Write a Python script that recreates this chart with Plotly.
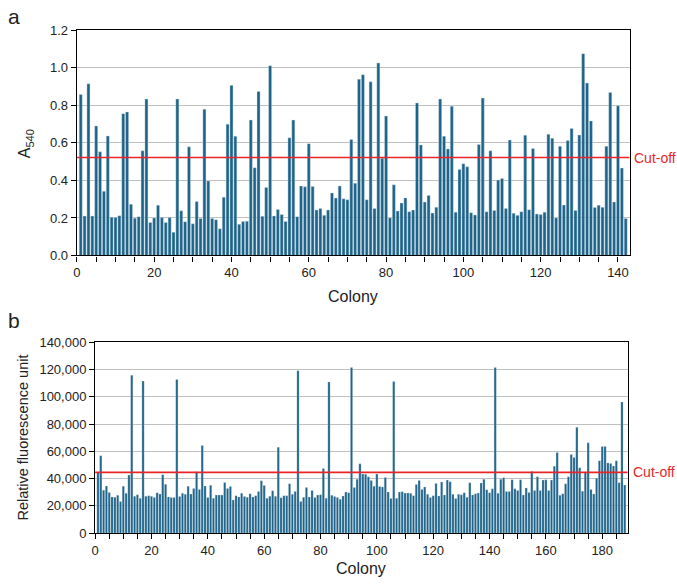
import plotly.graph_objects as go

# ---------------- data ----------------
a540 = [0.858, 0.21, 0.915, 0.21, 0.69, 0.553, 0.342, 0.637, 0.204, 0.202,
        0.212, 0.756, 0.765, 0.273, 0.199, 0.207, 0.558, 0.834, 0.176, 0.2,
        0.268, 0.202, 0.176, 0.202, 0.124, 0.834, 0.238, 0.18, 0.579, 0.169,
        0.288, 0.197, 0.78, 0.397, 0.197, 0.19, 0.142, 0.311, 0.70, 0.907,
        0.636, 0.166, 0.181, 0.183, 0.722, 0.468, 0.874, 0.209, 0.363, 1.012,
        0.211, 0.245, 0.218, 0.181, 0.627, 0.722, 0.207, 0.37, 0.366, 0.596,
        0.368, 0.242, 0.25, 0.214, 0.242, 0.333, 0.306, 0.37, 0.302, 0.297,
        0.618, 0.385, 0.94, 0.964, 0.297, 0.926, 0.25, 1.026, 0.518, 0.743,
        0.2, 0.377, 0.237, 0.28, 0.307, 0.233, 0.242, 0.813, 0.589, 0.285,
        0.32, 0.226, 0.257, 0.834, 0.636, 0.568, 0.796, 0.231, 0.458, 0.489,
        0.473, 0.228, 0.216, 0.591, 0.839, 0.233, 0.558, 0.24, 0.402, 0.411,
        0.25, 0.615, 0.225, 0.214, 0.233, 0.641, 0.244, 0.57, 0.221, 0.218,
        0.231, 0.646, 0.625, 0.2, 0.582, 0.269, 0.613, 0.677, 0.24, 0.642,
        1.076, 0.919, 0.717, 0.256, 0.268, 0.257, 0.582, 0.869, 0.285, 0.798,
        0.466, 0.197]
colony_a = list(range(1, len(a540) + 1))

rfu = [44600, 56700, 31500, 34600, 29900, 26600, 26300, 27800, 23200, 34400,
       29200, 42700, 115800, 27000, 28200, 25600, 111500, 27000, 27500, 27000,
       26100, 29700, 28700, 42900, 35800, 26600, 26100, 26100, 112700, 26800,
       29200, 28500, 34400, 28700, 32700, 45000, 32000, 64300, 34600, 26100,
       35100, 25600, 28000, 28000, 28000, 37200, 32700, 34200, 24400, 27500,
       26600, 29200, 26800, 26300, 28900, 26600, 27500, 30600, 38400, 34900,
       25600, 27000, 31100, 27000, 62900, 25900, 27500, 27500, 36300, 28500,
       30600, 119100, 23200, 26300, 33400, 26600, 31300, 26100, 28000, 28200,
       47400, 25600, 110800, 27800, 26800, 26100, 24900, 27300, 30100, 29700,
       121400, 33400, 39600, 50800, 43400, 43200, 41300, 38700, 34400, 43400,
       34200, 33900, 40800, 30100, 25400, 111200, 25600, 30100, 30400, 29400,
       29400, 29200, 27500, 35600, 38700, 32000, 33900, 28500, 26100, 27500,
       36500, 27300, 37500, 28000, 38900, 37700, 28500, 25400, 28500, 28200,
       29700, 26300, 37000, 28000, 28900, 29400, 36800, 39600, 31800, 29700,
       32500, 121400, 29200, 39600, 40600, 30600, 30600, 39100, 32500, 31300,
       39100, 28000, 33200, 29900, 45300, 31300, 41300, 31300, 38900, 39100,
       31300, 38900, 49100, 59100, 27800, 28900, 36300, 41300, 57600, 55500,
       77600, 47900, 30800, 44800, 66200, 32000, 28700, 40300, 53100, 63600,
       63600, 51500, 51000, 49300, 53100, 37000, 96100, 35300]
colony_b = list(range(1, len(rfu) + 1))

cutoff_a = 0.522
cutoff_b = 44600

# ---------------- style ----------------
W, H = 677, 586
BAR = "#1e6388"
RED = "#e8262a"
TXT = "#222222"
FONT = "Liberation Sans, Arial, sans-serif"

def px_x(p):
    return p / W

def px_y(p):
    return (H - p) / H

fig = go.Figure()
fig.add_trace(go.Bar(x=colony_a, y=a540, marker=dict(color=BAR, line=dict(color="#cfe0ea", width=0.4)),
                     xaxis="x", yaxis="y", showlegend=False))
fig.add_trace(go.Bar(x=colony_b, y=rfu, marker=dict(color=BAR, line=dict(color="#cfe0ea", width=0.3)),
                     xaxis="x2", yaxis="y2", showlegend=False))

axis_common = dict(showline=True, linecolor="black", linewidth=1.3, mirror=True,
                   ticks="outside", tickcolor="black", ticklen=5, zeroline=False,
                   tickfont=dict(size=13, color=TXT, family=FONT))

fig.update_layout(
    width=W, height=H,
    margin=dict(l=0, r=0, t=0, b=0),
    paper_bgcolor="white", plot_bgcolor="white",
    bargap=0.22,
    font=dict(family=FONT, color=TXT),
    xaxis=dict(domain=[px_x(73.3), px_x(629.3)], anchor="y", range=[0, 143],
               dtick=20, tick0=0, showgrid=False,
               minor=dict(dtick=5, tick0=0, ticks="outside", ticklen=5, tickcolor="black", showgrid=False),
               **axis_common),
    yaxis=dict(domain=[px_y(255), px_y(24)], anchor="x", range=[0, 1.2], dtick=0.2,
               tickformat=".1f", showgrid=True, gridcolor="#c0c0c0", gridwidth=1,
               **axis_common),
    xaxis2=dict(domain=[px_x(91.7), px_x(627.3)], anchor="y2", range=[0, 189],
                dtick=20, tick0=0, showgrid=False,
                minor=dict(dtick=5, tick0=0, ticks="outside", ticklen=5, tickcolor="black", showgrid=False),
                **axis_common),
    yaxis2=dict(domain=[px_y(540), px_y(344)], anchor="x2", range=[0, 140000], dtick=20000,
                tickformat=",d", showgrid=True, gridcolor="#c0c0c0", gridwidth=1,
                **axis_common),
)

# axis titles
fig.add_annotation(xref="paper", yref="paper", x=px_x((73.3 + 629.3) / 2), y=px_y(297),
                   text="Colony", showarrow=False, xanchor="center", yanchor="middle",
                   font=dict(size=16, family=FONT, color=TXT))
fig.add_annotation(xref="paper", yref="paper", x=px_x((91.7 + 627.3) / 2), y=px_y(576),
                   text="Colony", showarrow=False, xanchor="center", yanchor="middle",
                   font=dict(size=16, family=FONT, color=TXT))
fig.add_annotation(xref="paper", yref="paper", x=px_x(22), y=px_y(140),
                   text="A<sub>540</sub>", showarrow=False, textangle=-90,
                   xanchor="center", yanchor="middle", font=dict(size=16, family=FONT, color=TXT))
fig.add_annotation(xref="paper", yref="paper", x=px_x(19), y=px_y(442),
                   text="Relative fluorescence unit", showarrow=False, textangle=-90,
                   xanchor="center", yanchor="middle", font=dict(size=14.5, family=FONT, color=TXT))

# cut-off lines
fig.add_shape(type="line", xref="x domain", yref="y", x0=0, x1=1, y0=cutoff_a, y1=cutoff_a,
              line=dict(color=RED, width=1.6))
fig.add_shape(type="line", xref="x2 domain", yref="y2", x0=0, x1=1, y0=cutoff_b, y1=cutoff_b,
              line=dict(color=RED, width=1.6))
fig.add_annotation(xref="x domain", yref="y", x=1, y=cutoff_a, text="Cut-off", showarrow=False,
                   xanchor="left", xshift=2, font=dict(color=RED, size=14, family=FONT))
fig.add_annotation(xref="x2 domain", yref="y2", x=1, y=cutoff_b, text="Cut-off", showarrow=False,
                   xanchor="left", xshift=3, font=dict(color=RED, size=14, family=FONT))

# panel labels
fig.add_annotation(xref="paper", yref="paper", x=px_x(10), y=px_y(10), text="a", showarrow=False,
                   xanchor="center", yanchor="middle", font=dict(size=21, family=FONT, color=TXT))
fig.add_annotation(xref="paper", yref="paper", x=px_x(10), y=px_y(322), text="b", showarrow=False,
                   xanchor="center", yanchor="middle", font=dict(size=21, family=FONT, color=TXT))

fig.write_html("out.html")
